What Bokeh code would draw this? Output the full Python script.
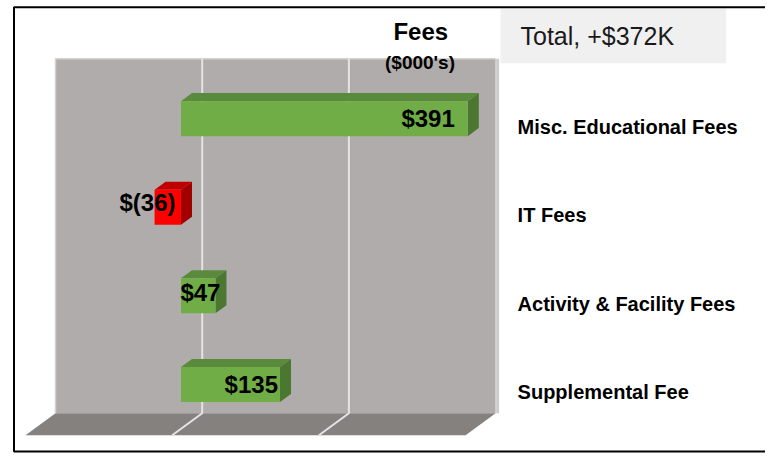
from bokeh.plotting import figure
from bokeh.models import Range1d
from bokeh.core.properties import value
from bokeh.embed import file_html
from bokeh.resources import INLINE

# ---------------- data ----------------
categories = ["Supplemental Fee", "Activity & Facility Fees", "IT Fees", "Misc. Educational Fees"]
values = [135, 47, -36, 391]
value_labels = ["$135", "$47", "$(36)", "$391"]
axis_ticks = [-200, 0, 200, 400]
title_text = "Fees"
subtitle_text = "($000's)"
total_text = "Total, +$372K"

# ---------------- layout ----------------
W, H = 765, 453
SX = 0.7335          # px per $000
SY = 88.6            # px per category band
WALL_LEFT_PX = 55.0
WALL_TOP_PX = 58.3
X_START = axis_ticks[0] - WALL_LEFT_PX / SX
X_END = X_START + W / SX
Y_END = len(categories) + WALL_TOP_PX / SY
Y_START = Y_END - H / SY


def px_x(px):
    return X_START + px / SX


def px_y(py):
    return Y_END - py / SY


DEPTH_DX = 30 / SX
DEPTH_DY = 22 / SY


def proj(x, y, d):
    return (x - d * DEPTH_DX, y - d * DEPTH_DY)


D_BACK, D_FRONT = 0.34, 0.707
BH = 17.5 / SY
FONT = value("Liberation Sans")

p = figure(width=W, height=H, output_backend="svg", toolbar_location=None,
           x_range=Range1d(X_START, X_END), y_range=Range1d(Y_START, Y_END),
           x_axis_location=None, y_axis_location=None, min_border=0)
p.grid.visible = False
p.outline_line_color = None
p.background_fill_color = "white"
p.border_fill_color = "white"

xmin, xmax = axis_ticks[0], axis_ticks[-1]
n = len(categories)

# wall
wall = [proj(xmin, 0, 0), proj(xmax, 0, 0), proj(xmax, n, 0), proj(xmin, n, 0)]
p.patch([c[0] for c in wall], [c[1] for c in wall], fill_color="#B0ACAB", line_color=None)
# wall right soft shadow
rs = [proj(xmax, 0, 0), proj(xmax, n, 0)]
p.line([rs[0][0] + 2 / SX, rs[1][0] + 2 / SX], [rs[0][1], rs[1][1]], line_color="#CFCDCC", line_width=3)
# floor
floor = [proj(xmin, 0, 0), proj(xmax, 0, 0), proj(xmax, 0, 1), proj(xmin, 0, 1)]
p.patch([c[0] for c in floor], [c[1] for c in floor], fill_color="#85817F", line_color=None)
# wall highlight edges (left & top)
hl = [proj(xmin, 0, 0), proj(xmin, n, 0), proj(xmax, n, 0)]
p.line([c[0] for c in hl], [c[1] for c in hl], line_color="#D4D2D1", line_width=1.5)

# gridlines on wall and floor
for t in axis_ticks[1:-1]:
    a, b, c = proj(t, n, 0), proj(t, 0, 0), proj(t, 0, 1)
    p.line([a[0], b[0], c[0]], [a[1], b[1], c[1]], line_color="#E4E4E4", line_width=2)

# bars
fx, fy, fc, tx, ty, tc, sx_, sy_, sc = [], [], [], [], [], [], [], [], []
for i, v in enumerate(values):
    x0, x1 = min(0, v), max(0, v)
    yc = i + 0.5
    yt, yb = yc + BH, yc - BH
    front = [proj(x0, yb, D_FRONT), proj(x1, yb, D_FRONT), proj(x1, yt, D_FRONT), proj(x0, yt, D_FRONT)]
    top = [proj(x0, yt, D_FRONT), proj(x1, yt, D_FRONT), proj(x1, yt, D_BACK), proj(x0, yt, D_BACK)]
    side = [proj(x1, yb, D_FRONT), proj(x1, yt, D_FRONT), proj(x1, yt, D_BACK), proj(x1, yb, D_BACK)]
    pos = v >= 0
    fx.append([c[0] for c in front]); fy.append([c[1] for c in front])
    tx.append([c[0] for c in top]); ty.append([c[1] for c in top])
    sx_.append([c[0] for c in side]); sy_.append([c[1] for c in side])
    fc.append("#70AD47" if pos else "#FF0000")
    tc.append("#5A8A3B" if pos else "#C00000")
    sc.append("#4B7730" if pos else "#A00000")
p.patches(tx, ty, fill_color=tc, line_color=None)
p.patches(sx_, sy_, fill_color=sc, line_color=None)
p.patches(fx, fy, fill_color=fc, line_color=None)

# value labels
label_dx_px = [-2, 5, -5.5, -13]
label_dy_px = [0, -3, -5, 0]
lx, ly = [], []
for i, v in enumerate(values):
    X, Y = proj(max(0, v), i + 0.5, D_FRONT)
    lx.append(X + label_dx_px[i] / SX)
    ly.append(Y - label_dy_px[i] / SY)
p.text(lx, ly, text=value_labels, text_align="right", text_baseline="middle",
       text_font=FONT, text_font_style="bold", text_font_size="24px", text_color="#000000")

# category labels (right side)
cx = [axis_ticks[-1] - DEPTH_DX + 52 / SX] * n
cy = [i + 0.5 - DEPTH_DY - 1.4 / SY for i in range(n)]
p.text(cx, cy, text=categories, text_align="left", text_baseline="middle",
       text_font=FONT, text_font_style="bold", text_font_size="20px", text_color="#000000")

# total box
p.quad(left=[px_x(500)], right=[px_x(725.7)], top=[px_y(8)], bottom=[px_y(62.7)],
       fill_color="#F0F0F0", line_color=None)
p.text([px_x(520)], [px_y(35.5)], text=[total_text], text_align="left", text_baseline="middle",
       text_font=FONT, text_font_size="25px", text_color="#1A1A1A")

# titles
p.text([px_x(420.3)], [px_y(31)], text=[title_text], text_align="center", text_baseline="middle",
       text_font=FONT, text_font_style="bold", text_font_size="24px", text_color="#000000")
p.text([px_x(419.5)], [px_y(62)], text=[subtitle_text], text_align="center", text_baseline="middle",
       text_font=FONT, text_font_style="bold", text_font_size="19px", text_color="#000000")

# frame border (left, top, bottom)
bx0 = px_x(13.5)
bx1 = px_x(W + 20)
byt = px_y(6.8)
byb = px_y(451)
p.line([bx1, bx0, bx0, bx1], [byt, byt, byb, byb], line_color="#000000", line_width=2)

open("out.html", "w").write(file_html(p, INLINE))
